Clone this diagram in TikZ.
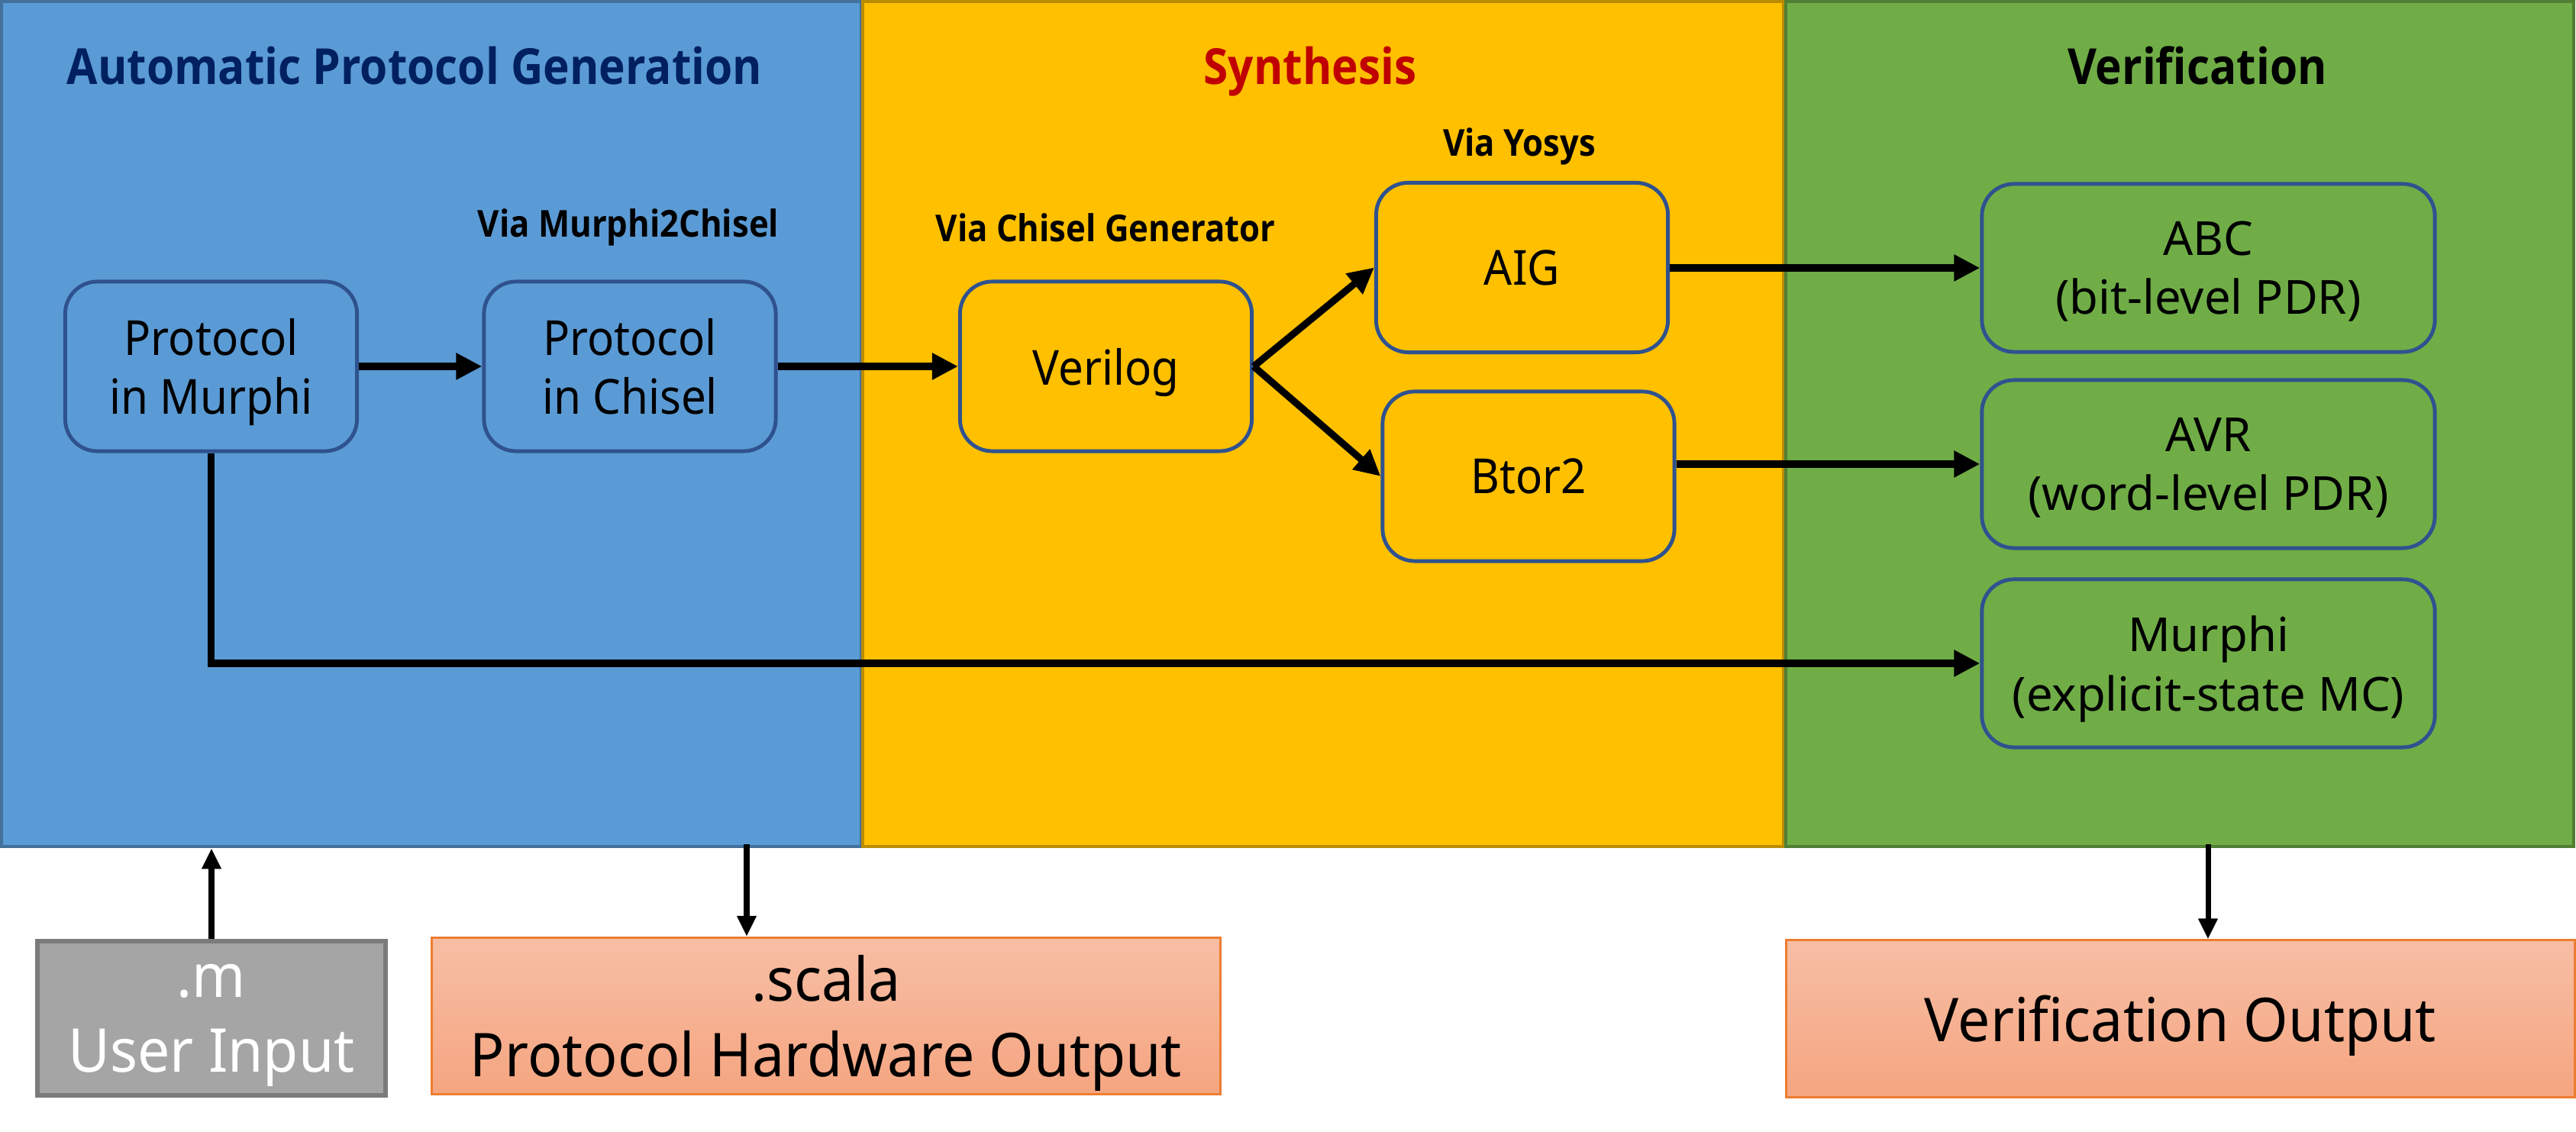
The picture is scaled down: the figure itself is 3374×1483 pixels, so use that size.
\documentclass[tikz,border=0pt]{standalone}
\usepackage{fontspec}
\setmainfont{Noto Sans}
\newfontfamily\cf[FakeStretch=0.92]{Noto Sans}
\newfontfamily\cfb[FakeStretch=0.95]{Noto Sans}
\newfontfamily\tf[FakeStretch=0.9]{Open Sans}
\usetikzlibrary{arrows.meta}
\definecolor{bfill}{HTML}{5B9BD5}
\definecolor{bline}{HTML}{41719C}
\definecolor{yfill}{HTML}{FFC000}
\definecolor{yline}{HTML}{BC8C00}
\definecolor{gfill}{HTML}{70AD47}
\definecolor{gline}{HTML}{507E32}
\definecolor{boxline}{HTML}{2F528F}
\definecolor{navy}{HTML}{002060}
\definecolor{dred}{HTML}{C00000}
\definecolor{grayfill}{HTML}{A5A5A5}
\definecolor{grayline}{HTML}{7B7B7B}
\definecolor{otop}{HTML}{F7BEA5}
\definecolor{obot}{HTML}{F5A580}
\definecolor{oline}{HTML}{ED7D31}
\begin{document}
\begin{tikzpicture}[x=0.01cm,y=-0.01cm,
  panel/.style={line width=1.14pt, inner sep=0pt, minimum height=11.07cm},
  title/.style={anchor=base, font=\tf\bfseries\fontsize{18.5}{22}\selectfont},
  via/.style={anchor=base, font=\tf\bfseries\fontsize{13.8}{16}\selectfont},
  rbox/.style={draw=boxline, line width=1.4pt, rounded corners=0.42cm, align=center, inner sep=0pt, text depth=0pt, minimum width=3.82cm, minimum height=2.22cm, font=\cf\fontsize{18}{22}\selectfont},
  vbox/.style={draw=boxline, line width=1.4pt, rounded corners=0.42cm, align=center, inner sep=0pt, text depth=0pt, minimum width=5.93cm, minimum height=2.2cm, font=\fontsize{17.5}{22}\selectfont},
  obox/.style={draw=oline, line width=0.85pt, top color=otop, bottom color=obot, align=center, inner sep=0pt, text depth=0pt, minimum width=10.32cm, minimum height=2.05cm, font=\cfb\fontsize{22.5}{28}\selectfont},
  arr/.style={line width=2.6pt, -{Triangle[length=0.34cm,width=0.33cm]}},
  arrb/.style={line width=2pt, -{Triangle[length=0.27cm,width=0.24cm]}}
]
\useasboundingbox (0,0) rectangle (3374,1483);
\fill[white] (0,0) rectangle (3374,1483);

% panels
\node[panel, fill=bfill, draw=bline, minimum width=11.26cm] (bp) at (565,555.5) {};
\node[panel, fill=yfill, draw=yline, minimum width=12.06cm] (yp) at (1733,555.5) {};
\node[panel, fill=gfill, draw=gline, minimum width=10.32cm] (gp) at (2855,555.5) {};

% titles
\node[title, text=navy] (t1) at (543,111) {Automatic Protocol Generation};
\node[title, text=dred] (t2) at (1716,111) {Synthesis};
\node[title, text=black] (t3) at (2878,111) {Verification};

% via labels
\node[via] (v1) at (823,311) {Via Murphi2Chisel};
\node[via] (v2) at (1448,317) {Via Chisel Generator};
\node[via] (v3) at (1990,205) {Via Yosys};

% boxes
\node[rbox] (pm) at (276.5,480) {Protocol\\in Murphi};
\node[rbox] (pc) at (825,480) {Protocol\\in Chisel};
\node[rbox] (ver) at (1448.5,480) {Verilog};
\node[rbox] (aig) at (1993.5,350.5) {AIG};
\node[rbox] (btor) at (2002,624) {Btor2};
\node[vbox] (abc) at (2892.5,351) {ABC\\(bit-level PDR)};
\node[vbox] (avr) at (2892.5,608) {AVR\\(word-level PDR)};
\node[vbox] (mv) at (2892.5,869) {Murphi\\(explicit-state MC)};

% bottom boxes
\node[draw=grayline, fill=grayfill, line width=1.6pt, inner sep=0pt, text depth=0pt, minimum width=4.56cm, minimum height=2.02cm, align=center, text=white, font=\cfb\fontsize{22.5}{28}\selectfont] (user) at (277,1334) {.m\\User Input};
\node[obox] (scala) at (1082,1331) {.scala\\Protocol Hardware Output};
\node[obox] (vout) at (2856,1334.5) {Verification Output};

% connectors
\draw[arr] (pm) -- (pc);
\draw[arr] (pc) -- (ver);
\draw[arr] (ver.east) -- (aig.west);
\draw[arr] (ver.east) -- (btor.west);
\draw[arr] (aig.east |- abc.west) -- (abc.west);
\draw[arr] (btor.east |- avr.west) -- (avr.west);
\draw[arr] (pm.south) |- (mv.west);

\draw[arrb] (user.north) -- (user.north |- bp.south);
\coordinate (sc) at (978,1106);
\draw[arrb] (sc) -- (sc |- scala.north);
\coordinate (vc) at (2892,1106);
\draw[arrb] (vc) -- (vc |- vout.north);
\end{tikzpicture}
\end{document}
